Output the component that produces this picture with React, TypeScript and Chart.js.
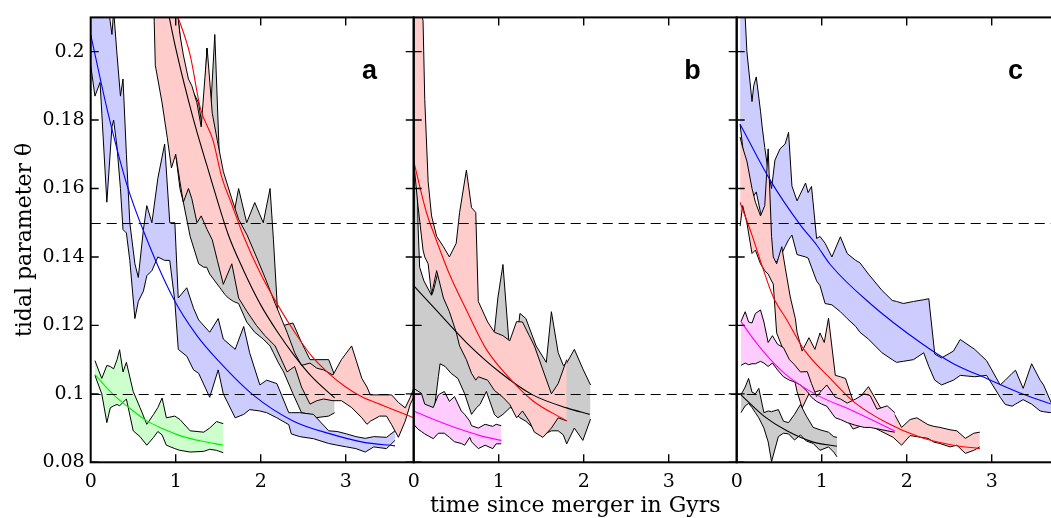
import React, { useEffect, useRef } from 'react';
import { Chart, registerables } from 'chart.js';

Chart.register(...registerables);

// ---------- layout constants (data units) ----------
const PANEL_SPAN = 3.8;
const panelOffsets = [0, 3.8, 7.6];
const panelLetters = ['a', 'b', 'c'];
const panelTickLabels = [0, 1, 2, 3];
const yTicks = [0.08, 0.1, 0.12, 0.14, 0.16, 0.18, 0.2];
const dashedLevels = [0.15, 0.1];

// ---------- panel a ----------
const aBlueT = [0, 0.05, 0.11, 0.19, 0.25, 0.27, 0.31, 0.35, 0.38, 0.42, 0.46, 0.52, 0.56, 0.62, 0.66, 0.72, 0.79, 0.87, 0.93, 0.99, 1.03, 1.13, 1.21, 1.27, 1.4, 1.5, 1.56, 1.7, 1.8, 1.87, 1.99, 2.07, 2.19, 2.33, 2.36, 2.46, 2.62, 2.8, 2.9, 3.01, 3.12, 3.23, 3.33, 3.48, 3.58];
const aBlueLo = [0.196, 0.187, 0.191, 0.156, 0.178, 0.18, 0.172, 0.16, 0.148, 0.147, 0.139, 0.122, 0.127, 0.13, 0.1345, 0.136, 0.14, 0.139, 0.139, 0.127, 0.113, 0.111, 0.107, 0.106, 0.099, 0.107, 0.1, 0.093, 0.094, 0.0954, 0.095, 0.0945, 0.093, 0.091, 0.0883, 0.0875, 0.0869, 0.0855, 0.085, 0.0845, 0.084, 0.083, 0.0845, 0.084, 0.0864];
const aBlueHi = [0.216, 0.216, 0.216, 0.216, 0.205, 0.212, 0.199, 0.187, 0.192, 0.17, 0.15, 0.138, 0.134, 0.148, 0.155, 0.15, 0.163, 0.173, 0.15, 0.15, 0.128, 0.131, 0.125, 0.1216, 0.118, 0.122, 0.116, 0.113, 0.1197, 0.112, 0.1026, 0.104, 0.103, 0.0945, 0.0945, 0.0945, 0.094, 0.0892, 0.089, 0.0883, 0.0875, 0.087, 0.0875, 0.0873, 0.0892];

const aGreenT = [0.05, 0.13, 0.19, 0.23, 0.27, 0.31, 0.34, 0.38, 0.42, 0.5, 0.58, 0.66, 0.74, 0.79, 0.84, 0.89, 0.99, 1.05, 1.17, 1.33, 1.4, 1.48, 1.56];
const aGreenLo = [0.1054, 0.1, 0.0916, 0.0959, 0.0965, 0.0969, 0.0965, 0.0975, 0.0985, 0.0892, 0.0875, 0.085, 0.0873, 0.089, 0.088, 0.085, 0.084, 0.0835, 0.083, 0.0832, 0.0838, 0.0835, 0.0828];
const aGreenHi = [0.1097, 0.1045, 0.1083, 0.108, 0.1073, 0.11, 0.1129, 0.1064, 0.1092, 0.1007, 0.096, 0.0911, 0.094, 0.096, 0.0988, 0.093, 0.0935, 0.0925, 0.0892, 0.0888, 0.09, 0.0919, 0.0913];

const aRedT = [0.74, 0.76, 0.84, 0.9, 0.95, 1.0, 1.05, 1.09, 1.15, 1.19, 1.25, 1.3, 1.37, 1.43, 1.49, 1.56, 1.66, 1.74, 1.84, 1.95, 2.05, 2.17, 2.31, 2.4, 2.48, 2.58, 2.66, 2.74, 2.85, 2.95, 3.07, 3.19, 3.25, 3.29, 3.4, 3.48, 3.54, 3.62, 3.7, 3.76, 3.8];
const aRedLo = [0.216, 0.196, 0.185, 0.175, 0.166, 0.17, 0.162, 0.156, 0.16, 0.157, 0.15, 0.152, 0.148, 0.145, 0.139, 0.132, 0.138, 0.128, 0.124, 0.12, 0.117, 0.114, 0.1064, 0.108, 0.102, 0.097, 0.098, 0.0985, 0.098, 0.098, 0.096, 0.093, 0.0911, 0.092, 0.0935, 0.0935, 0.091, 0.0873, 0.092, 0.097, 0.099];
const aRedHi = [0.216, 0.216, 0.216, 0.216, 0.216, 0.216, 0.205, 0.199, 0.192, 0.19, 0.185, 0.178, 0.201, 0.182, 0.174, 0.165, 0.157, 0.151, 0.1464, 0.14, 0.134, 0.1264, 0.118, 0.112, 0.1083, 0.109, 0.1075, 0.107, 0.1055, 0.11, 0.114, 0.1045, 0.102, 0.0997, 0.0997, 0.0997, 0.0997, 0.0975, 0.0959, 0.099, 0.1016];

const aGrayT = [0.82, 0.85, 0.92, 1.0, 1.05, 1.09, 1.17, 1.27, 1.33, 1.365, 1.4, 1.46, 1.52, 1.58, 1.62, 1.68, 1.74, 1.835, 1.93, 2.03, 2.11, 2.15, 2.21, 2.27, 2.38, 2.48, 2.58, 2.64, 2.8, 2.87];
const aGrayLo = [0.216, 0.19, 0.182, 0.17, 0.16, 0.156, 0.146, 0.138, 0.137, 0.137, 0.135, 0.133, 0.131, 0.129, 0.128, 0.127, 0.1264, 0.121, 0.118, 0.116, 0.114, 0.112, 0.109, 0.1064, 0.1, 0.0945, 0.094, 0.093, 0.0935, 0.0945];
const aGrayHi = [0.216, 0.216, 0.216, 0.216, 0.205, 0.195, 0.19, 0.185, 0.175, 0.201, 0.178, 0.205, 0.165, 0.15, 0.16, 0.152, 0.16, 0.15, 0.1559, 0.15, 0.16, 0.145, 0.1192, 0.12, 0.1207, 0.115, 0.11, 0.11, 0.11, 0.1054];

const aBlueFitT = [0, 0.19, 0.42, 0.64, 0.97, 1.25, 1.52, 1.91, 2.38, 2.82, 3.2, 3.58];
const aBlueFitV = [0.205, 0.1835, 0.1616, 0.1464, 0.128, 0.117, 0.1092, 0.0997, 0.0921, 0.0883, 0.0859, 0.0848];
const aGreenFitT = [0.05, 0.27, 0.5, 0.66, 0.85, 1.05, 1.3, 1.56];
const aGreenFitV = [0.1056, 0.0997, 0.095, 0.0921, 0.0898, 0.0878, 0.0862, 0.085];
const aRedFitT = [1.0, 1.17, 1.29, 1.44, 1.54, 1.65, 1.8, 2.0, 2.2, 2.4, 2.6, 2.8, 3.0, 3.2, 3.4, 3.6, 3.8];
const aRedFitV = [0.212, 0.199, 0.1835, 0.174, 0.1635, 0.156, 0.146, 0.135, 0.126, 0.118, 0.111, 0.106, 0.102, 0.099, 0.097, 0.095, 0.093];
const aGrayFitT = [0.9, 1.0, 1.2, 1.4, 1.62, 1.8, 2.0, 2.2, 2.4, 2.6, 2.87];
const aGrayFitV = [0.213, 0.201, 0.181, 0.164, 0.1464, 0.136, 0.126, 0.118, 0.111, 0.105, 0.0988];

// ---------- panel b ----------
const bGrayT = [0, 0.03, 0.05, 0.07, 0.12, 0.21, 0.23, 0.29, 0.31, 0.37, 0.44, 0.52, 0.6, 0.68, 0.74, 0.78, 0.855, 0.95, 0.99, 1.05, 1.13, 1.15, 1.21, 1.25, 1.32, 1.44, 1.56, 1.62, 1.7, 1.76, 1.8, 1.89, 1.99, 2.08];
const bGrayLo = [0.1, 0.101, 0.1005, 0.1, 0.097, 0.093, 0.093, 0.105, 0.1088, 0.108, 0.106, 0.1045, 0.1, 0.094, 0.096, 0.0969, 0.1007, 0.094, 0.093, 0.094, 0.0959, 0.096, 0.094, 0.093, 0.092, 0.0892, 0.0885, 0.0892, 0.0892, 0.088, 0.0854, 0.09, 0.0864, 0.0926];
const bGrayHi = [0.216, 0.2, 0.15, 0.137, 0.133, 0.1288, 0.13, 0.136, 0.134, 0.131, 0.1292, 0.1178, 0.117, 0.1159, 0.1159, 0.117, 0.1175, 0.1183, 0.128, 0.1378, 0.112, 0.1026, 0.115, 0.1235, 0.122, 0.114, 0.1092, 0.124, 0.112, 0.1083, 0.109, 0.113, 0.1073, 0.1026];

const bRedT = [0, 0.05, 0.11, 0.13, 0.17, 0.21, 0.27, 0.35, 0.42, 0.5, 0.54, 0.62, 0.68, 0.73, 0.76, 0.87, 0.95, 1.05, 1.13, 1.21, 1.28, 1.36, 1.42, 1.52, 1.62, 1.7, 1.8];
const bRedLo = [0.168, 0.155, 0.142, 0.14, 0.138, 0.129, 0.136, 0.128, 0.124, 0.118, 0.114, 0.11, 0.106, 0.104, 0.105, 0.104, 0.101, 0.099, 0.0969, 0.093, 0.095, 0.092, 0.0888, 0.0873, 0.09, 0.093, 0.0921];
const bRedHi = [0.216, 0.216, 0.209, 0.186, 0.162, 0.152, 0.146, 0.143, 0.14, 0.144, 0.153, 0.1654, 0.1544, 0.153, 0.127, 0.121, 0.118, 0.117, 0.1155, 0.1211, 0.121, 0.117, 0.114, 0.107, 0.1, 0.103, 0.11];

const bMagT = [0, 0.05, 0.09, 0.13, 0.23, 0.29, 0.36, 0.42, 0.48, 0.56, 0.6, 0.66, 0.68, 0.76, 0.84, 0.93, 0.97, 1.03];
const bMagLo = [0.0911, 0.0897, 0.089, 0.0883, 0.0869, 0.0885, 0.0885, 0.0873, 0.086, 0.0855, 0.085, 0.0873, 0.086, 0.084, 0.085, 0.084, 0.0854, 0.0854];
const bMagHi = [0.1016, 0.1008, 0.1002, 0.097, 0.096, 0.0997, 0.1007, 0.0978, 0.0992, 0.095, 0.094, 0.092, 0.0907, 0.09, 0.0911, 0.0905, 0.0911, 0.0907];

const bRedFitT = [0, 0.15, 0.25, 0.42, 0.62, 0.855, 1.13, 1.4, 1.8];
const bRedFitV = [0.168, 0.153, 0.146, 0.135, 0.1245, 0.113, 0.1045, 0.098, 0.0921];
const bGrayFitT = [0, 0.23, 0.62, 1.01, 1.4, 1.8, 2.07];
const bGrayFitV = [0.1316, 0.1254, 0.115, 0.1064, 0.0997, 0.0959, 0.094];
const bMagFitT = [0, 0.23, 0.54, 0.78, 1.03];
const bMagFitV = [0.095, 0.0926, 0.0897, 0.0878, 0.0864];

// ---------- panel c ----------
const cBlueT = [0.04, 0.08, 0.1, 0.12, 0.18, 0.2, 0.23, 0.28, 0.3, 0.33, 0.37, 0.41, 0.45, 0.51, 0.57, 0.61, 0.65, 0.71, 0.81, 0.84, 0.88, 0.94, 0.98, 1.04, 1.12, 1.22, 1.3, 1.4, 1.45, 1.55, 1.71, 1.83, 1.88, 1.96, 2.08, 2.2, 2.26, 2.33, 2.41, 2.55, 2.63, 2.8, 2.94, 3.1, 3.16, 3.24, 3.28, 3.37, 3.47, 3.57, 3.61, 3.69, 3.71, 3.8];
const cBlueLo = [0.1788, 0.17, 0.166, 0.1626, 0.158, 0.1578, 0.159, 0.153, 0.1511, 0.15, 0.1435, 0.133, 0.138, 0.14, 0.143, 0.145, 0.1464, 0.1407, 0.14, 0.1397, 0.137, 0.133, 0.1316, 0.1264, 0.126, 0.124, 0.122, 0.1197, 0.118, 0.116, 0.112, 0.11, 0.1092, 0.1095, 0.11, 0.112, 0.108, 0.104, 0.1026, 0.104, 0.1054, 0.105, 0.1054, 0.099, 0.0969, 0.0964, 0.097, 0.0983, 0.097, 0.095, 0.0948, 0.0945, 0.095, 0.093];
const cBlueHi = [0.216, 0.216, 0.21, 0.2, 0.1854, 0.19, 0.1926, 0.1826, 0.178, 0.172, 0.165, 0.16, 0.1683, 0.1716, 0.173, 0.1764, 0.1607, 0.1564, 0.1616, 0.1588, 0.1606, 0.1454, 0.146, 0.144, 0.14, 0.1459, 0.141, 0.139, 0.1383, 0.135, 0.1302, 0.1273, 0.127, 0.1264, 0.127, 0.1275, 0.1278, 0.1116, 0.1105, 0.1125, 0.1159, 0.113, 0.1097, 0.1026, 0.104, 0.106, 0.1069, 0.1016, 0.1088, 0.104, 0.1026, 0.098, 0.0969, 0.097];

const cRedT = [0.04, 0.07, 0.12, 0.18, 0.22, 0.28, 0.33, 0.37, 0.41, 0.43, 0.47, 0.53, 0.57, 0.63, 0.69, 0.71, 0.77, 0.85, 0.92, 0.98, 1.03, 1.08, 1.16, 1.22, 1.28, 1.37, 1.45, 1.55, 1.69, 1.84, 1.94, 2.04, 2.12, 2.25, 2.32, 2.39, 2.51, 2.59, 2.69, 2.79, 2.86];
const cRedLo = [0.149, 0.155, 0.15, 0.141, 0.142, 0.138, 0.136, 0.135, 0.133, 0.1321, 0.1178, 0.114, 0.111, 0.107, 0.103, 0.1007, 0.0959, 0.1, 0.1005, 0.101, 0.1, 0.0995, 0.0988, 0.096, 0.093, 0.0897, 0.0905, 0.091, 0.0892, 0.0873, 0.085, 0.0878, 0.0875, 0.087, 0.0859, 0.0855, 0.0845, 0.085, 0.0826, 0.0835, 0.0845];
const cRedHi = [0.175, 0.172, 0.168, 0.16, 0.156, 0.152, 0.155, 0.1716, 0.146, 0.14, 0.138, 0.143, 0.137, 0.1283, 0.122, 0.118, 0.1125, 0.1164, 0.113, 0.1178, 0.115, 0.1221, 0.1054, 0.105, 0.1045, 0.0978, 0.099, 0.1021, 0.096, 0.0948, 0.0902, 0.0925, 0.093, 0.091, 0.0905, 0.0902, 0.0895, 0.0892, 0.087, 0.0885, 0.0888];

const cMagT = [0.05, 0.1, 0.14, 0.18, 0.22, 0.28, 0.32, 0.37, 0.42, 0.48, 0.55, 0.62, 0.68, 0.75, 0.83, 0.88, 0.94, 1.0, 1.06, 1.16, 1.22, 1.3, 1.4, 1.5, 1.57, 1.65, 1.77, 1.86];
const cMagLo = [0.1083, 0.109, 0.1085, 0.1088, 0.1088, 0.1095, 0.109, 0.108, 0.109, 0.107, 0.105, 0.104, 0.1035, 0.1026, 0.1007, 0.099, 0.0978, 0.097, 0.0964, 0.093, 0.0925, 0.0916, 0.0908, 0.0902, 0.0902, 0.0898, 0.0892, 0.0888];
const cMagHi = [0.1211, 0.124, 0.121, 0.1207, 0.1235, 0.1245, 0.121, 0.115, 0.117, 0.1145, 0.1135, 0.11, 0.1085, 0.1064, 0.1065, 0.103, 0.0992, 0.101, 0.1026, 0.099, 0.0985, 0.0973, 0.0985, 0.1, 0.0995, 0.0955, 0.0965, 0.0945];

const cGrayT = [0.05, 0.1, 0.14, 0.18, 0.22, 0.26, 0.32, 0.37, 0.41, 0.49, 0.55, 0.61, 0.68, 0.75, 0.82, 0.9, 0.98, 1.08, 1.14, 1.18];
const cGrayLo = [0.0945, 0.0965, 0.0972, 0.096, 0.0945, 0.093, 0.09, 0.086, 0.0802, 0.0875, 0.0885, 0.0883, 0.0865, 0.088, 0.0862, 0.0855, 0.0835, 0.0845, 0.083, 0.0816];
const cGrayHi = [0.0997, 0.102, 0.1045, 0.1005, 0.1, 0.1016, 0.0945, 0.095, 0.0948, 0.0954, 0.092, 0.0916, 0.094, 0.0969, 0.0935, 0.0902, 0.0895, 0.0888, 0.0875, 0.0873];

const cBlueFitT = [0.04, 0.39, 0.75, 0.94, 1.1, 1.57, 2.16, 2.55, 2.94, 3.34, 3.8];
const cBlueFitV = [0.1788, 0.1626, 0.1493, 0.1435, 0.1378, 0.1264, 0.115, 0.1088, 0.1045, 0.1002, 0.0962];
const cRedFitT = [0.04, 0.18, 0.28, 0.43, 0.59, 0.79, 1.1, 1.37, 1.76, 2.16, 2.55, 2.86];
const cRedFitV = [0.1559, 0.1464, 0.1388, 0.1283, 0.1216, 0.113, 0.1045, 0.0978, 0.0916, 0.0873, 0.085, 0.084];
const cMagFitT = [0.05, 0.2, 0.39, 0.59, 0.94, 1.37, 1.86];
const cMagFitV = [0.1211, 0.1159, 0.1102, 0.1054, 0.0997, 0.095, 0.0892];
const cGrayFitT = [0.05, 0.32, 0.59, 0.9, 1.18];
const cGrayFitV = [0.0997, 0.0935, 0.0892, 0.0859, 0.0847];

// ---------- styles ----------
const fillColors: Record<string, string> = {
  blue: 'rgb(204,204,255)',
  red: 'rgb(255,204,204)',
  gray: 'rgb(204,204,204)',
  green: 'rgb(204,255,204)',
  magenta: 'rgb(255,204,255)',
};
const lineColors: Record<string, string> = {
  blue: '#0000ff',
  red: '#ff0000',
  gray: '#000000',
  green: '#00ee00',
  magenta: '#ff00ff',
};

type Band = { panel: number; t: number[]; lo: number[]; hi: number[]; color: string };
type Fit = { panel: number; t: number[]; v: number[]; color: string };

// earlier entries are drawn on top
const bands: Band[] = [
  { panel: 0, t: aGreenT, lo: aGreenLo, hi: aGreenHi, color: 'green' },
  { panel: 0, t: aBlueT, lo: aBlueLo, hi: aBlueHi, color: 'blue' },
  { panel: 0, t: aRedT, lo: aRedLo, hi: aRedHi, color: 'red' },
  { panel: 0, t: aGrayT, lo: aGrayLo, hi: aGrayHi, color: 'gray' },
  { panel: 1, t: bMagT, lo: bMagLo, hi: bMagHi, color: 'magenta' },
  { panel: 1, t: bRedT, lo: bRedLo, hi: bRedHi, color: 'red' },
  { panel: 1, t: bGrayT, lo: bGrayLo, hi: bGrayHi, color: 'gray' },
  { panel: 2, t: cGrayT, lo: cGrayLo, hi: cGrayHi, color: 'gray' },
  { panel: 2, t: cMagT, lo: cMagLo, hi: cMagHi, color: 'magenta' },
  { panel: 2, t: cRedT, lo: cRedLo, hi: cRedHi, color: 'red' },
  { panel: 2, t: cBlueT, lo: cBlueLo, hi: cBlueHi, color: 'blue' },
];

const fits: Fit[] = [
  { panel: 0, t: aBlueFitT, v: aBlueFitV, color: 'blue' },
  { panel: 0, t: aGreenFitT, v: aGreenFitV, color: 'green' },
  { panel: 0, t: aRedFitT, v: aRedFitV, color: 'red' },
  { panel: 0, t: aGrayFitT, v: aGrayFitV, color: 'gray' },
  { panel: 1, t: bRedFitT, v: bRedFitV, color: 'red' },
  { panel: 1, t: bGrayFitT, v: bGrayFitV, color: 'gray' },
  { panel: 1, t: bMagFitT, v: bMagFitV, color: 'magenta' },
  { panel: 2, t: cBlueFitT, v: cBlueFitV, color: 'blue' },
  { panel: 2, t: cRedFitT, v: cRedFitV, color: 'red' },
  { panel: 2, t: cMagFitT, v: cMagFitV, color: 'magenta' },
  { panel: 2, t: cGrayFitT, v: cGrayFitV, color: 'gray' },
];

function buildDatasets() {
  const ds: any[] = [];
  fits.forEach((f) => {
    const off = panelOffsets[f.panel];
    ds.push({
      data: f.t.map((t, i) => ({ x: t + off, y: f.v[i] })),
      borderColor: lineColors[f.color],
      borderWidth: 1.1,
      pointRadius: 0,
      fill: false,
      cubicInterpolationMode: 'monotone',
      order: 0,
    });
  });
  bands.forEach((b) => {
    const off = panelOffsets[b.panel];
    ds.push({
      data: b.t.map((t, i) => ({ x: t + off, y: b.lo[i] })),
      borderColor: '#000',
      borderWidth: 1,
      pointRadius: 0,
      fill: false,
      tension: 0,
      order: 1,
    });
    ds.push({
      data: b.t.map((t, i) => ({ x: t + off, y: b.hi[i] })),
      borderColor: '#000',
      borderWidth: 1,
      pointRadius: 0,
      fill: '-1',
      backgroundColor: fillColors[b.color],
      tension: 0,
      order: 1,
    });
  });
  return ds;
}

const xTickValues = panelOffsets.flatMap((off) => panelTickLabels.map((k) => off + k));

const framePlugin = {
  id: 'panelFrames',
  afterDatasetsDraw(chart: any) {
    const { ctx, chartArea: ca, scales } = chart;
    const x = scales.x;
    const y = scales.y;
    ctx.save();
    ctx.strokeStyle = '#000';
    ctx.lineWidth = 1.2;
    ctx.setLineDash([10, 6]);
    dashedLevels.forEach((v) => {
      const py = Math.round(y.getPixelForValue(v)) + 0.5;
      ctx.beginPath();
      ctx.moveTo(ca.left, py);
      ctx.lineTo(ca.right, py);
      ctx.stroke();
    });
    ctx.setLineDash([]);
    const tickLen = 8;
    panelOffsets.forEach((off, p) => {
      const l = x.getPixelForValue(off);
      const r = x.getPixelForValue(off + PANEL_SPAN);
      ctx.lineWidth = 1.4;
      ctx.beginPath();
      panelTickLabels.forEach((k) => {
        if (k === 0) return;
        const px = x.getPixelForValue(off + k);
        ctx.moveTo(px, ca.top);
        ctx.lineTo(px, ca.top + tickLen);
        ctx.moveTo(px, ca.bottom);
        ctx.lineTo(px, ca.bottom - tickLen);
      });
      yTicks.forEach((v) => {
        const py = y.getPixelForValue(v);
        ctx.moveTo(l, py);
        ctx.lineTo(l + tickLen, py);
        ctx.moveTo(r, py);
        ctx.lineTo(r - tickLen, py);
      });
      ctx.stroke();
      ctx.lineWidth = 2;
      ctx.strokeRect(l, ca.top, r - l, ca.bottom - ca.top);
      ctx.fillStyle = '#000';
      ctx.font = "bold 27px 'Liberation Sans', Arial, sans-serif";
      ctx.textAlign = 'center';
      ctx.textBaseline = 'alphabetic';
      ctx.fillText(panelLetters[p], x.getPixelForValue(off + 3.28), y.getPixelForValue(0.1919));
    });
    ctx.restore();
  },
};

export default function App() {
  const canvasRef = useRef<HTMLCanvasElement | null>(null);

  useEffect(() => {
    const canvas = canvasRef.current;
    if (!canvas) return;
    const chart = new Chart(canvas, {
      type: 'line',
      data: { datasets: buildDatasets() },
      options: {
        responsive: false,
        animation: false,
        events: [],
        devicePixelRatio: 1,
        layout: { padding: { top: 7.3, right: 2.3, left: 0, bottom: 0 } },
        plugins: {
          legend: { display: false },
          tooltip: { enabled: false },
          filler: { propagate: false },
        },
        scales: {
          x: {
            type: 'linear',
            min: 0,
            max: PANEL_SPAN * 3,
            afterBuildTicks: (scale: any) => {
              scale.ticks = xTickValues.map((v) => ({ value: v }));
            },
            afterFit: (scale: any) => {
              scale.height = 55.7;
            },
            grid: { display: false, drawTicks: false },
            border: { display: false },
            ticks: {
              autoSkip: false,
              maxRotation: 0,
              padding: 8,
              color: '#000',
              font: { family: "'DejaVu Serif', serif", size: 19 },
              callback: (value: any) => {
                const v = Number(value);
                let off = 0;
                panelOffsets.forEach((o) => {
                  if (v >= o - 1e-6) off = o;
                });
                return String(Math.round(v - off));
              },
            },
            title: {
              display: true,
              text: 'time since merger in Gyrs',
              color: '#000',
              font: { family: "'DejaVu Serif', serif", size: 22 },
              padding: { top: 0, bottom: -1.5 },
            },
          },
          y: {
            type: 'linear',
            min: 0.08,
            max: 0.21,
            afterBuildTicks: (scale: any) => {
              scale.ticks = yTicks.map((v) => ({ value: v }));
            },
            afterFit: (scale: any) => {
              scale.width = 90.7;
            },
            grid: { display: false, drawTicks: false },
            border: { display: false },
            ticks: {
              padding: 6,
              color: '#000',
              font: { family: "'DejaVu Serif', serif", size: 19 },
              callback: (value: any) => String(Number(value)),
            },
            title: {
              display: true,
              text: 'tidal parameter θ',
              color: '#000',
              font: { family: "'DejaVu Serif', serif", size: 22 },
              padding: { top: 12, bottom: 0 },
            },
          },
        },
      },
      plugins: [framePlugin],
    } as any);
    return () => {
      chart.destroy();
    };
  }, []);

  return (
    <div
      style={{
        position: 'absolute',
        left: 0,
        top: 0,
        width: 1051,
        height: 518,
        overflow: 'hidden',
        background: '#fff',
      }}
    >
      <canvas ref={canvasRef} width={1062} height={518} style={{ display: 'block' }} />
    </div>
  );
}
